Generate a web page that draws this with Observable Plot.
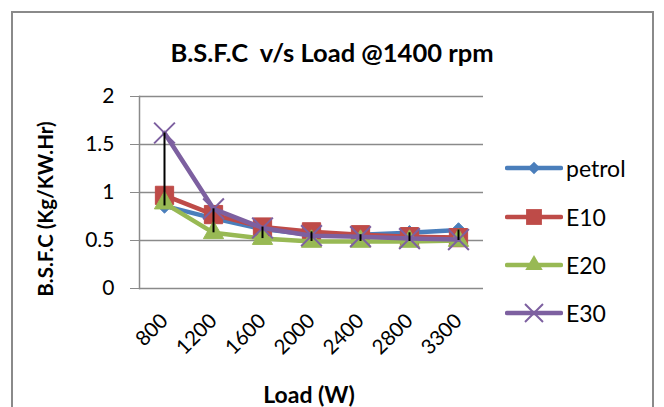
<!DOCTYPE html>
<html>
<head>
<meta charset="utf-8">
<script src="https://cdn.jsdelivr.net/npm/d3@7"></script>
<script src="https://cdn.jsdelivr.net/npm/@observablehq/plot@0.6"></script>
<style>
  html, body { margin: 0; padding: 0; background: #fff; }
  #wrap { position: relative; width: 664px; height: 407px; overflow: hidden; font-family: Lato, "Open Sans", sans-serif; }
  #border { position: absolute; left: 11px; top: 11px; width: 643px; height: 420px; border: 2px solid #8a8a8a; box-sizing: border-box; }
  #title { position: absolute; left: 0; width: 664px; top: 37px; text-align: center; font-weight: bold; font-size: 25.5px; white-space: pre; color: #000; line-height: 30px; }
  #ylabel { position: absolute; left: 45px; top: 209px; transform: translate(-50%, -50%) rotate(-90deg); font-weight: bold; font-size: 20.5px; white-space: nowrap; color: #000; }
  #xlabel { position: absolute; left: 0; width: 618px; top: 380px; text-align: center; font-weight: bold; font-size: 23px; color: #000; line-height: 28px; }
  #chart { position: absolute; left: 0; top: 0; }
  #legend { position: absolute; left: 505px; top: 150px; }
  .item { position: absolute; left: 0; height: 30px; display: flex; align-items: center; white-space: nowrap; font-size: 23px; color: #000; }
  .item svg { margin-right: 3px; }
</style>
</head>
<body>
<div id="wrap">
  <div id="border"></div>
  <div id="chart"></div>
  <div id="title">B.S.F.C  v/s Load @1400 rpm</div>
  <div id="ylabel">B.S.F.C (Kg/KW.Hr)</div>
  <div id="xlabel">Load (W)</div>
  <div id="legend"></div>
</div>
<script>
const categories = ["800", "1200", "1600", "2000", "2400", "2800", "3300"];
const petrol = [0.86, 0.73, 0.62, 0.56, 0.56, 0.58, 0.61];
const e10    = [0.97, 0.77, 0.64, 0.59, 0.56, 0.54, 0.53];
const e20    = [0.89, 0.58, 0.52, 0.49, 0.49, 0.49, 0.50];
const e30    = [1.62, 0.83, 0.63, 0.55, 0.54, 0.52, 0.51];
const seriesNames = ["petrol", "E10", "E20", "E30"];
const yTicks = [0, 0.5, 1, 1.5, 2];

const seriesValues = [petrol, e10, e20, e30];
const lineColors = ["#4A7EBB", "#BE4B48", "#98B954", "#7D60A0"];
const symbols = ["diamond2", "square", "triangle", "times"];
const radii = [6.5, 10.3, 7.5, 9.5];

const series = seriesNames.map((name, i) => ({
  name,
  color: lineColors[i],
  symbol: symbols[i],
  r: radii[i],
  data: categories.map((c, j) => ({ load: c, value: seriesValues[i][j], series: name }))
}));

const hiLo = categories.map((c, j) => ({
  load: c,
  lo: d3.min(seriesValues, s => s[j]),
  hi: d3.max(seriesValues, s => s[j])
}));

const seriesMarks = series.flatMap(s => {
  const isStroke = s.symbol === "times";
  return [
    Plot.line(s.data, { x: "load", y: "value", stroke: s.color, strokeWidth: 4.5, strokeLinejoin: "round", strokeLinecap: "round" }),
    Plot.dot(s.data, isStroke
      ? { x: "load", y: "value", symbol: s.symbol, r: s.r, stroke: s.color, strokeWidth: 2 }
      : { x: "load", y: "value", symbol: s.symbol, r: s.r, fill: s.color, stroke: s.color, strokeWidth: 1 })
  ];
});

const chart = Plot.plot({
  width: 664,
  height: 407,
  marginTop: 96,
  marginBottom: 119,
  marginLeft: 139,
  marginRight: 181,
  style: { fontFamily: "Lato, 'Open Sans', sans-serif", color: "#000", background: "transparent", overflow: "visible" },
  x: { type: "point", domain: categories, padding: 0.5, label: null },
  y: { domain: [0, 2], label: null },
  marks: [
    Plot.ruleY(yTicks, { stroke: "#8a8a8a", strokeWidth: 1.5 }),
    Plot.frame({ anchor: "left", stroke: "#8a8a8a", strokeWidth: 1.5 }),
    Plot.axisY({ ticks: yTicks, tickSize: 9, tickPadding: 16, fontSize: 21, stroke: "#8a8a8a", fill: "#000", tickFormat: d => String(d), label: null }),
    Plot.axisX({ tickRotate: -45, tickSize: 0, tickPadding: 29, fontSize: 20.5, fill: "#000", label: null }),
    ...seriesMarks,
    Plot.ruleX(hiLo, { x: "load", y1: "lo", y2: "hi", stroke: "#000", strokeWidth: 2 })
  ]
});
document.getElementById("chart").appendChild(chart);

// legend
const legend = d3.select("#legend");
const legendTops = [3, 52, 100, 148];
series.forEach((s, i) => {
  const item = legend.append("div").attr("class", "item").style("top", legendTops[i] + "px");
  const svg = item.append("svg").attr("width", 58).attr("height", 30);
  svg.append("line").attr("x1", 2).attr("x2", 56).attr("y1", 15).attr("y2", 15)
    .attr("stroke", s.color).attr("stroke-width", 4.5).attr("stroke-linecap", "round");
  const sym = ({ diamond2: d3.symbolDiamond2, square: d3.symbolSquare, triangle: d3.symbolTriangle, times: d3.symbolTimes })[s.symbol];
  const size = Math.PI * s.r * s.r * 0.75;
  const p = svg.append("path").attr("d", d3.symbol(sym, size)()).attr("transform", "translate(29,15)");
  if (s.symbol === "times") p.attr("fill", "none").attr("stroke", s.color).attr("stroke-width", 2);
  else p.attr("fill", s.color);
  item.append("span").text(s.name);
});
</script>
</body>
</html>
